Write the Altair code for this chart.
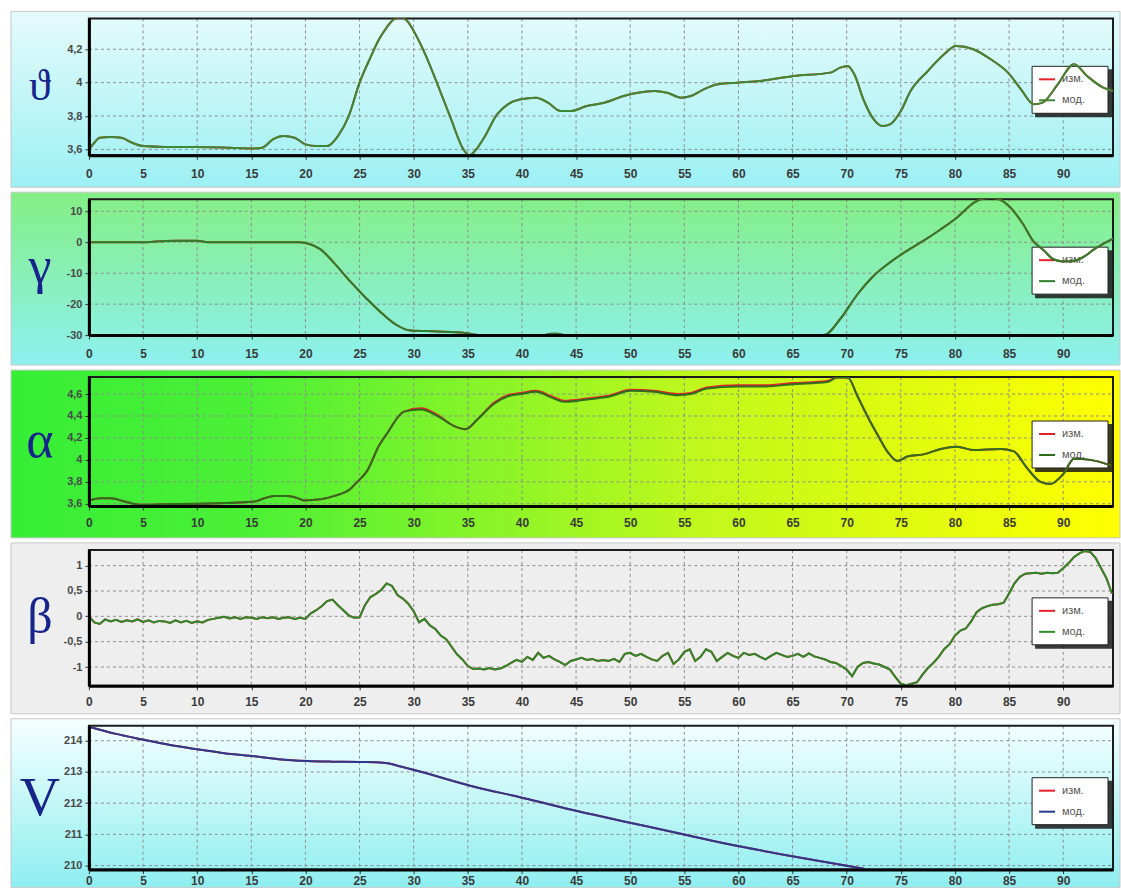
import altair as alt
import pandas as pd

# ---------------- data ----------------
X_MAX = 94.6
x_ticks = list(range(0, 95, 5))

# pitch angle (theta)
theta_x = [0, 0.5, 1, 2, 3, 4, 5, 7, 10, 13, 15, 16, 17, 18, 19, 20, 21, 22, 23, 24,
           25, 26, 26.8, 27.5, 28.2, 28.8, 29.4, 30, 31, 32.2, 33.4, 34.6, 35.1, 35.5, 36.5, 37.7,
           38.7, 39.9, 41.3, 42.4, 43.6, 44.5, 46, 47.6, 49.4, 50.7, 52.2, 53.4, 54.7, 55.6,
           56.8, 58.1, 59.9, 62, 65.1, 68.5, 69.4, 70.1, 70.7, 71.6, 72.5, 73.3, 74, 75,
           75.9, 77.5, 79, 80.1, 81.7, 83.3, 84.9, 86.1, 87.3, 88.1, 89.5, 91, 92.2, 93.7, 94.6]
theta_mod = [3.6, 3.64, 3.67, 3.675, 3.67, 3.64, 3.62, 3.615, 3.615, 3.61, 3.605, 3.61, 3.66, 3.68,
             3.67, 3.63, 3.62, 3.62, 3.68, 3.8, 4.0, 4.15, 4.26, 4.33, 4.38, 4.39, 4.37, 4.31,
             4.18, 3.99, 3.79, 3.6, 3.565, 3.58, 3.67, 3.81, 3.87, 3.9, 3.91, 3.88, 3.83, 3.83,
             3.86, 3.88, 3.92, 3.94, 3.95, 3.94, 3.91, 3.92, 3.96, 3.99, 4.0, 4.01, 4.04, 4.06,
             4.09, 4.1, 4.05, 3.89, 3.78, 3.74, 3.75, 3.83, 3.95, 4.07, 4.17, 4.22, 4.2, 4.14,
             4.06, 3.96, 3.87, 3.88, 3.99, 4.11, 4.04, 3.97, 3.95]
theta_meas = list(theta_mod)

# roll angle (gamma)
gamma_x = [0, 5, 6.5, 8, 10, 11, 15, 19.5, 20.3, 21.4, 22.6, 24.2, 25.7, 27.3, 28.5, 29.7, 32.2,
           34.6, 36, 42, 42.7, 43.3, 44, 55, 67, 67.9, 69.4, 71, 72.5, 74, 75.6, 77.1, 78.7,
           80.2, 81.8, 82.5, 83.3, 84, 85.1, 86.3, 87.2, 88.2, 89.1, 90, 91, 92, 92.8, 94.6]
gamma_mod = [0, 0, 0.3, 0.5, 0.5, 0, 0, 0, -0.5, -2.3, -6.5, -12.9, -18.4, -23.7, -26.9, -28.5,
             -28.8, -29.2, -30, -30, -29.6, -29.6, -30, -30, -30, -30, -24.8, -16.8, -10.8, -6.5,
             -2.7, 0.5, 4.2, 8, 12.9, 14, 14.3, 14, 11.3, 5.8, 0.5, -2.6, -5.5, -6.2, -6, -4.5,
             -2.4, 1.2]
gamma_meas = list(gamma_mod)

# angle of attack (alpha)
alpha_x = [0, 1.1, 2, 3.3, 4.8, 7, 10.3, 13.4, 15.3, 16.2, 17.1, 18.3, 19.3, 19.9, 21.4, 22.6,
           24.2, 24.8, 25.7, 26.8, 27.6, 29.1, 30.7, 32.2, 33.7, 34.8, 35.9, 37.4, 38.7, 39.9,
           41.3, 42.7, 43.9, 46, 48.2, 50, 52.2, 54.4, 55.6, 57.1, 59.9, 62.5, 65.1, 68.2, 69.1,
           70.1, 71, 71.9, 72.9, 73.8, 74.7, 75.6, 77.1, 78.7, 80.2, 81.7, 84.2, 85.4, 86.7,
           87.9, 88.8, 90, 91, 92.5, 94.4]
alpha_mod = [3.63, 3.65, 3.65, 3.62, 3.59, 3.595, 3.6, 3.61, 3.62, 3.65, 3.67, 3.67, 3.65, 3.63,
             3.64, 3.67, 3.74, 3.8, 3.9, 4.13, 4.25, 4.44, 4.46, 4.4, 4.31, 4.28, 4.37, 4.51,
             4.58, 4.6, 4.62, 4.57, 4.53, 4.55, 4.58, 4.63, 4.62, 4.59, 4.6, 4.65, 4.67, 4.67,
             4.69, 4.71, 4.75, 4.75, 4.58, 4.4, 4.22, 4.07, 3.99, 4.03, 4.05, 4.1, 4.12, 4.09,
             4.1, 4.08, 3.92, 3.8, 3.78, 3.87, 4.01, 4.0, 3.95]
alpha_meas = [3.63, 3.65, 3.65, 3.62, 3.59, 3.595, 3.6, 3.61, 3.62, 3.65, 3.67, 3.67, 3.65, 3.63,
              3.64, 3.67, 3.74, 3.8, 3.9, 4.13, 4.25, 4.44, 4.47, 4.41, 4.31, 4.28, 4.37, 4.52,
              4.59, 4.61, 4.63, 4.58, 4.54, 4.56, 4.59, 4.64, 4.63, 4.6, 4.61, 4.66, 4.68, 4.68,
              4.7, 4.72, 4.75, 4.75, 4.58, 4.4, 4.22, 4.07, 3.99, 4.03, 4.05, 4.1, 4.12, 4.09,
              4.1, 4.08, 3.92, 3.8, 3.78, 3.87, 4.01, 4.0, 3.95]

# sideslip angle (beta), sampled every 0.5
beta_mod = [0.0, -0.12, -0.15, -0.06, -0.1, -0.07, -0.11, -0.08, -0.1, -0.06,
            -0.11, -0.08, -0.12, -0.09, -0.1, -0.13, -0.08, -0.12, -0.09, -0.13,
            -0.1, -0.12, -0.07, -0.05, -0.03, -0.01, -0.04, -0.02, -0.05, -0.02,
            -0.03, -0.05, -0.02, -0.04, -0.02, -0.05, -0.03, -0.02, -0.05, -0.03,
            -0.05, 0.06, 0.12, 0.2, 0.3, 0.33, 0.22, 0.12, 0.02, -0.03,
            -0.02, 0.22, 0.38, 0.44, 0.52, 0.65, 0.6, 0.42, 0.35, 0.25,
            0.1, -0.12, -0.05, -0.18, -0.25, -0.38, -0.45, -0.6, -0.75, -0.85,
            -0.98, -1.04, -1.03, -1.05, -1.02, -1.05, -1.03, -0.98, -0.92, -0.86,
            -0.9, -0.8, -0.86, -0.72, -0.82, -0.78, -0.85, -0.9, -0.96, -0.88,
            -0.85, -0.82, -0.86, -0.84, -0.88, -0.86, -0.88, -0.84, -0.9, -0.74,
            -0.72, -0.78, -0.74, -0.8, -0.85, -0.88, -0.78, -0.72, -0.94, -0.85,
            -0.7, -0.65, -0.88, -0.8, -0.65, -0.7, -0.88, -0.8, -0.72, -0.78,
            -0.82, -0.72, -0.76, -0.74, -0.8, -0.85, -0.78, -0.72, -0.76, -0.8,
            -0.78, -0.74, -0.8, -0.73, -0.79, -0.82, -0.85, -0.9, -0.92, -0.98,
            -1.05, -1.18, -1.0, -0.92, -0.9, -0.93, -0.95, -1.0, -1.05, -1.2,
            -1.33, -1.36, -1.33, -1.3, -1.15, -1.02, -0.92, -0.8, -0.65, -0.55,
            -0.38, -0.28, -0.24, -0.1, 0.08, 0.16, 0.2, 0.23, 0.24, 0.27,
            0.45, 0.65, 0.78, 0.84, 0.85, 0.86, 0.84, 0.86, 0.85, 0.86,
            0.95, 1.05, 1.17, 1.24, 1.29, 1.27, 1.15, 0.95, 0.75, 0.45]
beta_x = [i * 0.5 for i in range(len(beta_mod))]
beta_meas = list(beta_mod)

# airspeed (V)
v_x = [0, 2.5, 5.1, 7.5, 10.3, 12.5, 15.3, 17.5, 20.2, 22.5, 25.1, 26.5, 27.6, 28.5, 30.4,
       35.3, 40.2, 45.2, 50.3, 55.3, 60.2, 65.1, 70.4, 71.6]
v_mod = [214.45, 214.22, 214.03, 213.86, 213.71, 213.6, 213.5, 213.41, 213.35, 213.33, 213.32,
         213.31, 213.28, 213.2, 213.03, 212.55, 212.16, 211.74, 211.35, 210.97, 210.61, 210.29,
         209.97, 209.9]
v_meas = list(v_mod)

legend_labels = ["изм.", "мод."]

# ---------------- drawing ----------------
W = 1025
ONE = pd.DataFrame({"k": [0]})
LABEL_FONT = "Liberation Sans"
LETTER_FONT = "Liberation Serif"
LETTER_COLOR = "#17248a"
GRID_COLOR = "#8e8e8e"
MEAS_COLOR = "#e8202a"


def vgrad(top, bottom):
    return alt.LinearGradient(
        gradient="linear",
        stops=[alt.GradientStop(color=top, offset=0), alt.GradientStop(color=bottom, offset=1)],
        x1=0, x2=0, y1=0, y2=1,
    )


def hgrad(stops):
    return alt.LinearGradient(
        gradient="linear",
        stops=[alt.GradientStop(color=c, offset=o) for o, c in stops],
        x1=0, x2=1, y1=0, y2=0,
    )


def panel(xs, meas, mod, dom, yticks, H, band_fill, letter, letter_size,
          mod_color, band_bottom, label_pad, interp="monotone", lw=2):
    xscale = alt.Scale(domain=[0, X_MAX], nice=False, zero=False)
    yscale = alt.Scale(domain=dom, nice=False, zero=False)
    x_axis = alt.Axis(values=x_ticks, title=None, grid=False, labelFont=LABEL_FONT, labelFontSize=12,
                      labelFontWeight="bold", labelColor="#3a3a3a", labelPadding=label_pad,
                      domainColor="#000000", domainWidth=3, tickColor="#333333", tickSize=4,
                      zindex=1, labelFlush=False)
    y_axis = alt.Axis(values=yticks, title=None, grid=False, labelFont=LABEL_FONT, labelFontSize=11,
                      labelFontWeight="bold", labelColor="#4a4a4a", labelPadding=3,
                      labelExpr="replace(toString(datum.value), '.', ',')",
                      domainColor="#000000", domainWidth=3, tickColor="#333333", tickSize=4,
                      zindex=1, labelFlush=False)

    band = alt.Chart(ONE).mark_rect(fill=band_fill, stroke="#c8c8c8", strokeWidth=1).encode(
        x=alt.value(-78), x2=alt.value(W + 7), y=alt.value(-7), y2=alt.value(H + band_bottom)
    )
    vgrid = alt.Chart(pd.DataFrame({"x": x_ticks})).mark_rule(
        color=GRID_COLOR, strokeDash=[3, 3], strokeWidth=1
    ).encode(x=alt.X("x:Q", scale=xscale, axis=x_axis), y=alt.value(0), y2=alt.value(H))
    hgrid = alt.Chart(pd.DataFrame({"v": yticks})).mark_rule(
        color=GRID_COLOR, strokeDash=[3, 3], strokeWidth=1
    ).encode(y=alt.Y("v:Q", scale=yscale, axis=y_axis), x=alt.value(0), x2=alt.value(W))
    frame = alt.Chart(ONE).mark_rect(fillOpacity=0, stroke="#1c1c1c", strokeWidth=2).encode(
        x=alt.value(0), x2=alt.value(W), y=alt.value(0), y2=alt.value(H)
    )

    # legend box, drawn under the curves
    lx0, lx1 = 944, 1020
    ly0 = int(H / 2) - 20
    ly1 = ly0 + 47
    shadow = alt.Chart(ONE).mark_rect(fill="#1a1a1a", opacity=0.85).encode(
        x=alt.value(lx0 + 3), x2=alt.value(lx1 + 4), y=alt.value(ly0 + 3), y2=alt.value(ly1 + 4)
    )
    box = alt.Chart(ONE).mark_rect(fill="white", stroke="#222222", strokeWidth=1).encode(
        x=alt.value(lx0), x2=alt.value(lx1), y=alt.value(ly0), y2=alt.value(ly1)
    )
    leg = []
    for i, (lab, col) in enumerate(zip(legend_labels, [MEAS_COLOR, mod_color])):
        yy = ly0 + 13 + 21 * i
        leg.append(alt.Chart(ONE).mark_rule(color=col, strokeWidth=2).encode(
            x=alt.value(lx0 + 7), x2=alt.value(lx0 + 23), y=alt.value(yy)))
        leg.append(alt.Chart(ONE).mark_text(
            text=lab, align="left", baseline="middle", font=LABEL_FONT, fontSize=11, color="#555555"
        ).encode(x=alt.value(lx0 + 30), y=alt.value(yy)))

    df = pd.DataFrame({"x": xs, "meas": meas, "mod": mod})
    line_meas = alt.Chart(df).mark_line(color=MEAS_COLOR, strokeWidth=lw, clip=True,
                                        interpolate=interp).encode(
        x=alt.X("x:Q", scale=xscale, axis=x_axis), y=alt.Y("meas:Q", scale=yscale, axis=y_axis)
    )
    line_mod = alt.Chart(df).mark_line(color=mod_color, strokeWidth=lw, clip=True,
                                       interpolate=interp).encode(
        x=alt.X("x:Q", scale=xscale, axis=x_axis), y=alt.Y("mod:Q", scale=yscale, axis=y_axis)
    )
    sym = alt.Chart(ONE).mark_text(
        text=letter, font=LETTER_FONT, fontSize=letter_size, color=LETTER_COLOR,
        align="center", baseline="middle"
    ).encode(x=alt.value(-49), y=alt.value(H / 2))

    return alt.layer(band, vgrid, hgrid, frame, shadow, box, *leg, line_meas, line_mod, sym).properties(
        width=W, height=H
    )


p_theta = panel(theta_x, theta_meas, theta_mod, [3.565, 4.385], [3.6, 3.8, 4, 4.2], 137,
                vgrad("#e6fbfb", "#9cf0f4"), "ϑ", 44, "#3a8a35", 32, 9)
p_gamma = panel(gamma_x, gamma_meas, gamma_mod, [-30, 13.9], [-30, -20, -10, 0, 10], 136,
                vgrad("#84ef84", "#8ef0f0"), "γ", 52, "#2a7f2a", 30, 9)
p_alpha = panel(alpha_x, alpha_meas, alpha_mod, [3.58, 4.755], [3.6, 3.8, 4, 4.2, 4.4, 4.6], 129,
                hgrad([(0, "#36ee36"), (0.22, "#4cf036"), (0.62, "#c0f81c"), (1, "#ffff00")]),
                "α", 52, "#2c6e1e", 32, 8)
p_beta = panel(beta_x, beta_meas, beta_mod, [-1.37, 1.31], [-1, -0.5, 0, 0.5, 1], 136,
               "#eeeeee", "β", 50, "#2b8a2b", 28, 7, interp="linear", lw=2)
p_v = panel(v_x, v_meas, v_mod, [209.87, 214.48], [210, 211, 212, 213, 214], 144,
            vgrad("#f6ffff", "#8eeef0"), "V", 56, "#2b3a8c", 18, 2)

chart = alt.vconcat(p_theta, p_gamma, p_alpha, p_beta, p_v, spacing=3).properties(
    padding={"left": 10, "top": 10, "right": 0, "bottom": 0},
    background="white",
).configure_view(stroke="transparent")

chart.save("out.html", embed_options={"renderer": "svg", "actions": False})
